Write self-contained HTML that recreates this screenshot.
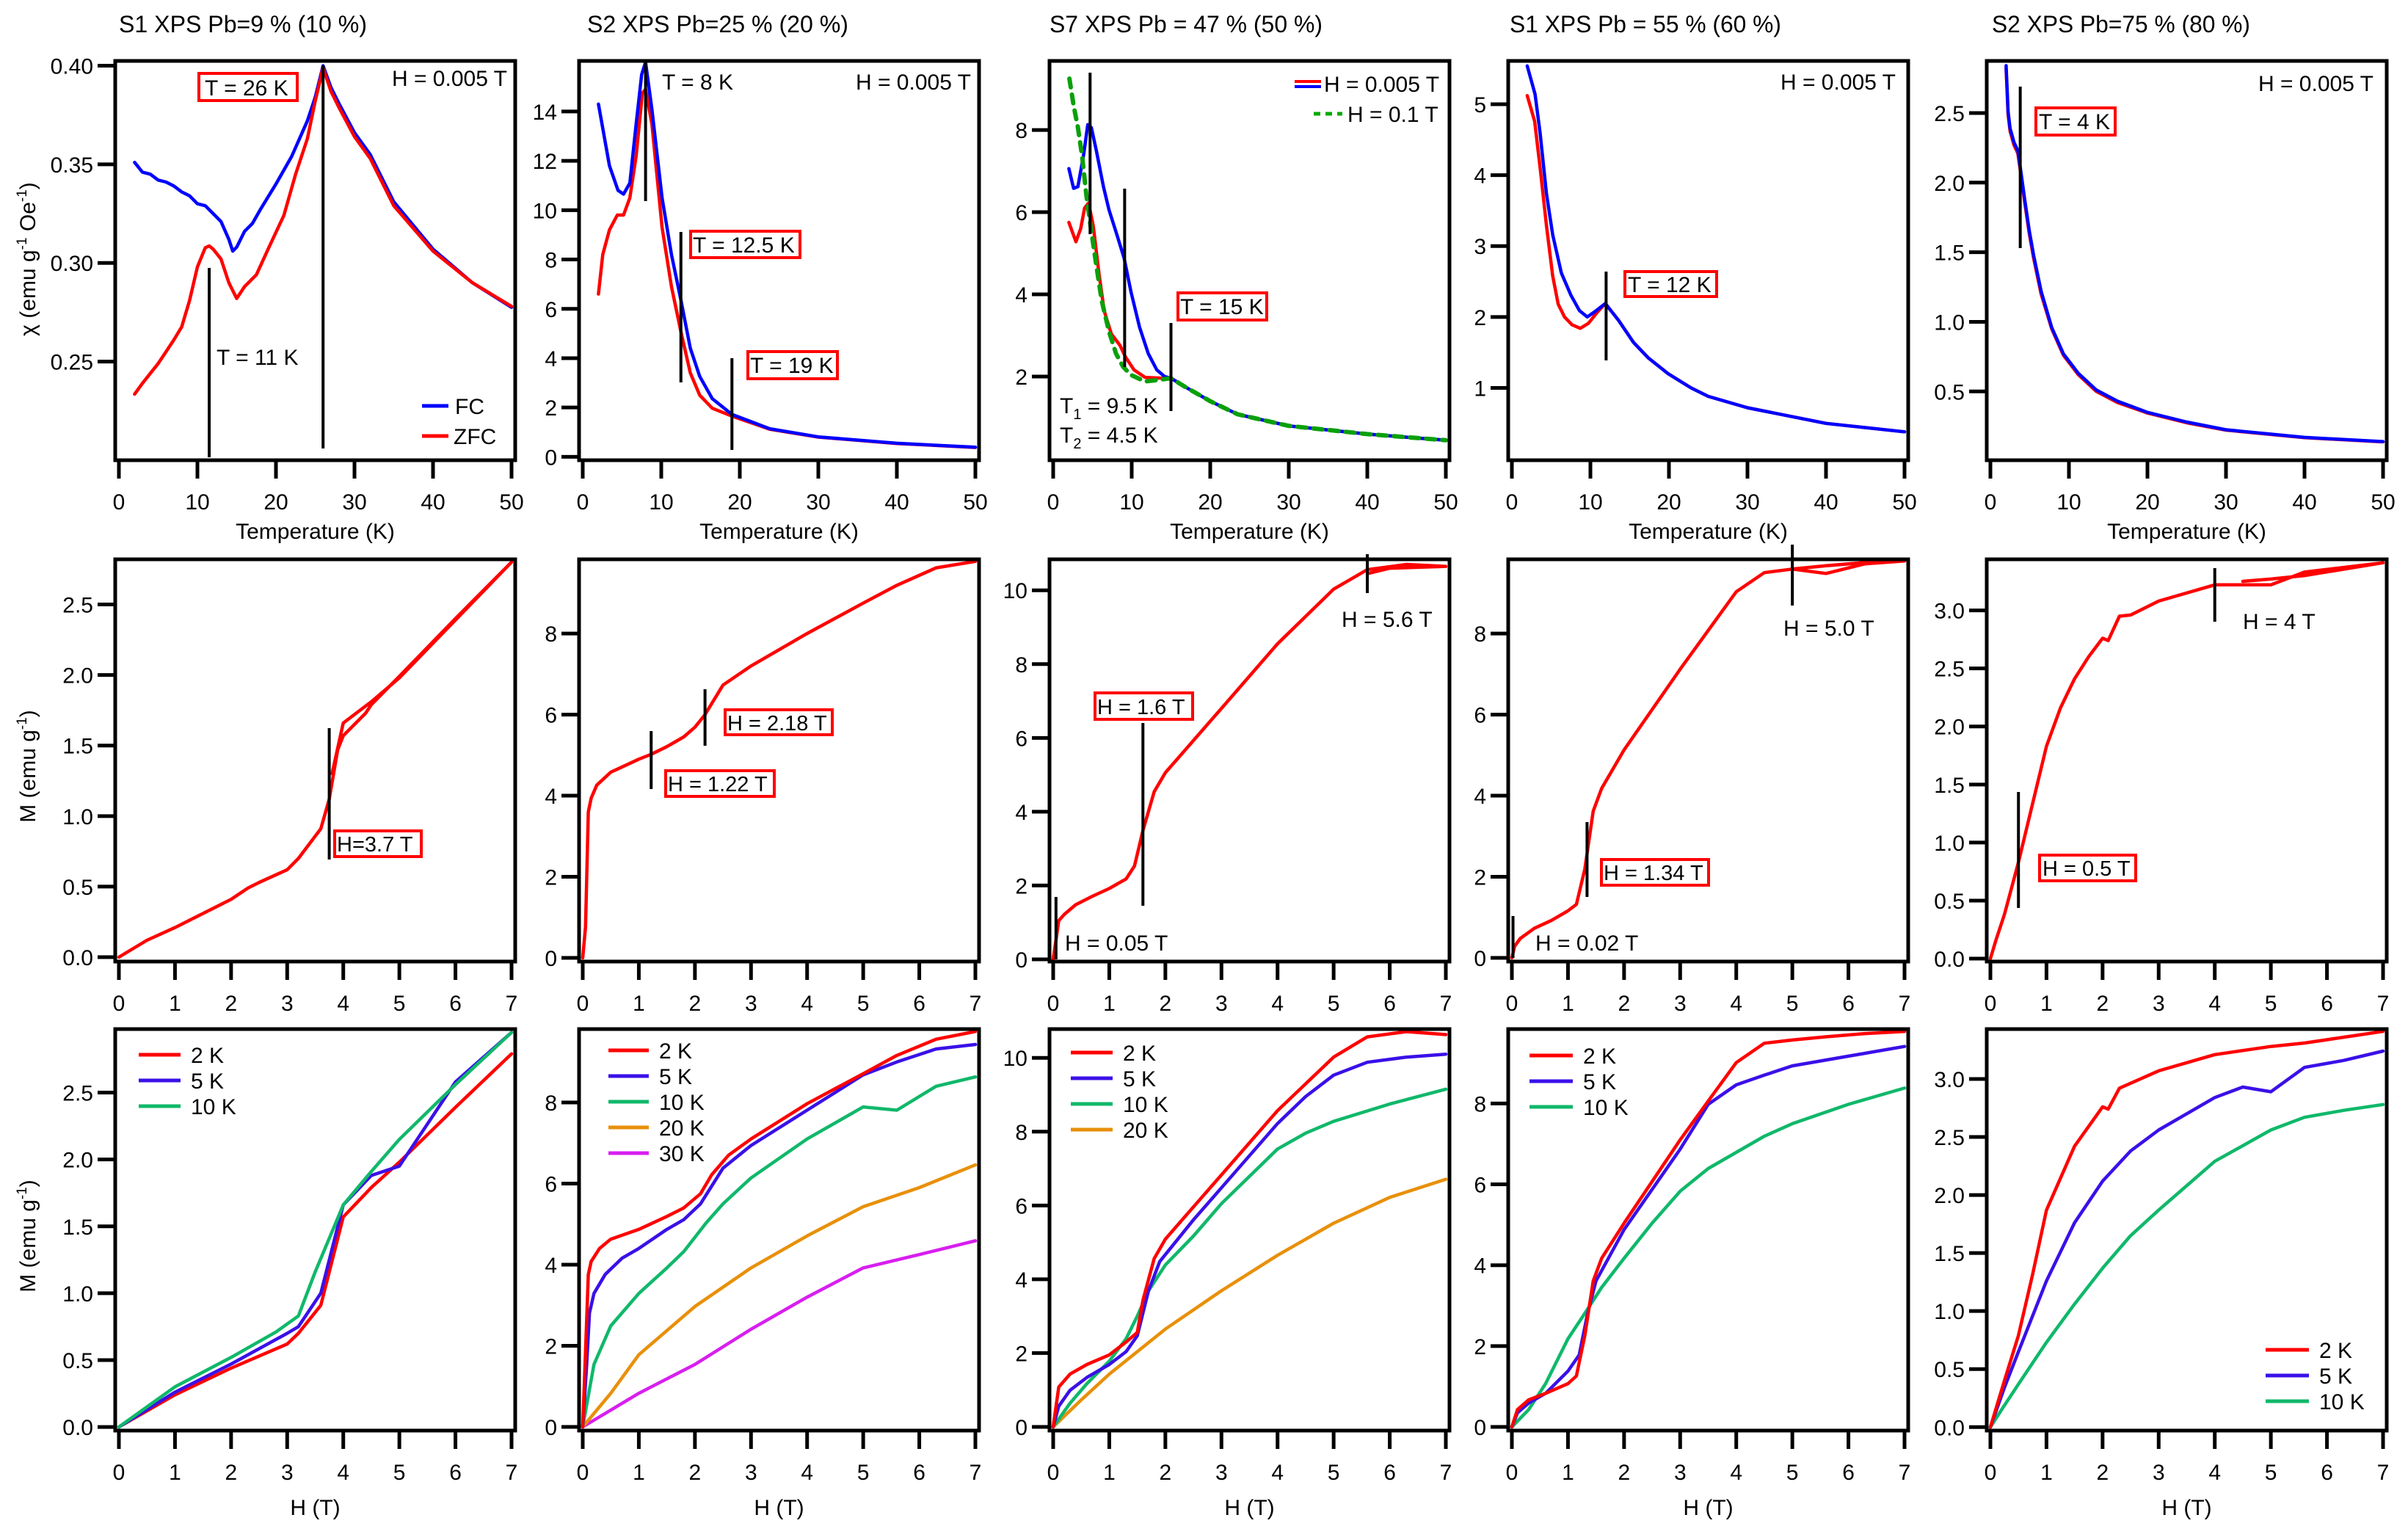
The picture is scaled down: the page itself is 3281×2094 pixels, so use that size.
<!DOCTYPE html>
<html><head><meta charset="utf-8"><title>Magnetization panels</title>
<style>
html,body{margin:0;padding:0;background:#fff;}
svg{display:block;font-family:"Liberation Sans",sans-serif;}
</style></head>
<body>
<svg id="fig" xmlns="http://www.w3.org/2000/svg" width="3281" height="2094" viewBox="0 0 3281 2094">
<rect x="0" y="0" width="3281" height="2094" fill="#fff"/>
<g id="marks"></g>
<g id="annot" font-size="30" fill="#000">
 <!-- titles -->
 <text x="162" y="44" font-size="32" textLength="338" lengthAdjust="spacingAndGlyphs">S1 XPS Pb=9 % (10 %)</text>
 <text x="800" y="44" font-size="32" textLength="356" lengthAdjust="spacingAndGlyphs">S2 XPS Pb=25 % (20 %)</text>
 <text x="1430" y="44" font-size="32" textLength="372" lengthAdjust="spacingAndGlyphs">S7 XPS Pb = 47 % (50 %)</text>
 <text x="2057" y="44" font-size="32" textLength="370" lengthAdjust="spacingAndGlyphs">S1 XPS Pb = 55 % (60 %)</text>
 <text x="2714" y="44" font-size="32" textLength="352" lengthAdjust="spacingAndGlyphs">S2 XPS Pb=75 % (80 %)</text>
 <!-- y titles -->
 <text transform="translate(48,353) rotate(-90)" text-anchor="middle" font-size="30">χ (emu g<tspan font-size="19" dy="-12">-1</tspan><tspan dy="12"> Oe</tspan><tspan font-size="19" dy="-12">-1</tspan><tspan dy="12">)</tspan></text>
 <text transform="translate(48,1044) rotate(-90)" text-anchor="middle" font-size="30">M (emu g<tspan font-size="19" dy="-12">-1</tspan><tspan dy="12">)</tspan></text>
 <text transform="translate(48,1684) rotate(-90)" text-anchor="middle" font-size="30">M (emu g<tspan font-size="19" dy="-12">-1</tspan><tspan dy="12">)</tspan></text>

 <!-- row1 col1 annotations -->
 <rect x="271" y="100" width="134" height="37" fill="none" stroke="#f00" stroke-width="4"/>
 <text x="279" y="130">T = 26 K</text>
 <text x="295" y="497">T = 11 K</text>
 <text x="691" y="117" text-anchor="end">H = 0.005 T</text>
 <line x1="575" y1="553" x2="611" y2="553" stroke="#00f" stroke-width="5"/>
 <text x="620" y="564">FC</text>
 <line x1="575" y1="594" x2="611" y2="594" stroke="#f00" stroke-width="5"/>
 <text x="618" y="605">ZFC</text>
 <!-- row1 col2 -->
 <text x="902" y="122">T = 8 K</text>
 <rect x="941" y="315" width="149" height="36" fill="none" stroke="#f00" stroke-width="4"/>
 <text x="944" y="344">T = 12.5 K</text>
 <rect x="1019" y="479" width="122" height="37" fill="none" stroke="#f00" stroke-width="4"/>
 <text x="1022" y="508">T = 19 K</text>
 <text x="1323" y="122" text-anchor="end">H = 0.005 T</text>
 <!-- row1 col3 -->
 <line x1="1764" y1="111" x2="1800" y2="111" stroke="#f00" stroke-width="4"/>
 <line x1="1764" y1="118" x2="1800" y2="118" stroke="#00f" stroke-width="4"/>
 <text x="1804" y="125">H = 0.005 T</text>
 <line x1="1790" y1="155" x2="1829" y2="155" stroke="#0a0" stroke-width="5" stroke-dasharray="9,7"/>
 <text x="1836" y="166">H = 0.1 T</text>
 <rect x="1605" y="399" width="121" height="37" fill="none" stroke="#f00" stroke-width="4"/>
 <text x="1608" y="428">T = 15 K</text>
 <text x="1444" y="563">T<tspan font-size="20" dy="8">1</tspan><tspan dy="-8"> = 9.5 K</tspan></text>
 <text x="1444" y="603">T<tspan font-size="20" dy="8">2</tspan><tspan dy="-8"> = 4.5 K</tspan></text>
 <!-- row1 col4 -->
 <rect x="2214" y="370" width="125" height="34" fill="none" stroke="#f00" stroke-width="4"/>
 <text x="2218" y="398">T = 12 K</text>
 <text x="2583" y="122" text-anchor="end">H = 0.005 T</text>
 <!-- row1 col5 -->
 <rect x="2774" y="147" width="108" height="37" fill="none" stroke="#f00" stroke-width="4"/>
 <text x="2778" y="176">T = 4 K</text>
 <text x="3234" y="124" text-anchor="end">H = 0.005 T</text>
 <!-- row2 -->
 <rect x="456" y="1132" width="118" height="35" fill="none" stroke="#f00" stroke-width="4"/>
 <text x="459" y="1160" font-size="29">H=3.7 T</text>
 <rect x="907" y="1050" width="148" height="35" fill="none" stroke="#f00" stroke-width="4"/>
 <text x="910" y="1078" font-size="29">H = 1.22 T</text>
 <rect x="988" y="967" width="146" height="34" fill="none" stroke="#f00" stroke-width="4"/>
 <text x="991" y="995" font-size="29">H = 2.18 T</text>
 <text x="1451" y="1295">H = 0.05 T</text>
 <rect x="1492" y="944" width="133" height="36" fill="none" stroke="#f00" stroke-width="4"/>
 <text x="1495" y="973" font-size="29">H = 1.6 T</text>
 <text x="1828" y="854">H = 5.6 T</text>
 <text x="2092" y="1295">H = 0.02 T</text>
 <rect x="2182" y="1171" width="146" height="35" fill="none" stroke="#f00" stroke-width="4"/>
 <text x="2185" y="1199" font-size="29">H = 1.34 T</text>
 <text x="2430" y="866">H = 5.0 T</text>
 <rect x="2779" y="1165" width="131" height="35" fill="none" stroke="#f00" stroke-width="4"/>
 <text x="2783" y="1193" font-size="29">H = 0.5 T</text>
 <text x="3056" y="857">H = 4 T</text>
</g>
</svg>
<script>
// ---------- data ----------
const r1c1_fc_T=[2,3,4,5,6,7,8,9,10,11,12,13,14,14.5,15,16,17,18,20,22,24,25,26,27,28,30,32,35,40,45,50];
const r1c1_fc_v=[0.351,0.346,0.345,0.342,0.341,0.339,0.336,0.334,0.330,0.329,0.325,0.321,0.312,0.306,0.308,0.316,0.320,0.327,0.340,0.354,0.372,0.384,0.400,0.389,0.381,0.366,0.355,0.331,0.307,0.290,0.2775];
const r1c1_zfc_T=[2,3,4,5,6,7,8,9,10,11,11.5,12,13,14,15,16,17.5,19,21,22.5,24,25,26,27,28,30,32,35,40,45,50];
const r1c1_zfc_v=[0.2335,0.239,0.244,0.249,0.255,0.261,0.2676,0.281,0.298,0.3077,0.3086,0.307,0.302,0.290,0.282,0.288,0.294,0.307,0.324,0.345,0.363,0.382,0.399,0.387,0.379,0.364,0.353,0.329,0.306,0.290,0.278];

const r1c2_fc_T=[2,3.4,4.5,5.2,6,6.8,7.5,8,8.8,10.1,11.3,12.5,13.7,14.9,16.5,19,23.8,30,40,50];
const r1c2_fc_v=[14.3,11.8,10.8,10.65,11.1,13.5,15.5,16.0,14.1,10.5,8.2,6.35,4.4,3.26,2.36,1.72,1.14,0.81,0.55,0.39];
const r1c2_zfc_T=[2,2.55,3.4,4.4,5.2,6,6.8,7.6,8,8.8,10.1,11.3,12.5,13.7,14.9,16.5,19,23.8,30,40,50];
const r1c2_zfc_v=[6.6,8.2,9.2,9.8,9.8,10.5,12.2,14.75,14.9,13.5,9.3,6.9,5.07,3.4,2.5,1.97,1.65,1.12,0.80,0.54,0.38];

const r1c3_blue_T=[2,2.6,3.15,3.9,4.4,4.86,5.5,6.4,7.1,8.15,9.05,9.9,11,12.1,13.2,14.2,15,16.7,20,23.5,30,40,50];
const r1c3_blue_v=[7.06,6.58,6.62,7.42,8.13,8.06,7.5,6.62,6.06,5.43,4.87,4.07,3.2,2.56,2.16,2.0,1.96,1.76,1.40,1.08,0.80,0.60,0.45];
const r1c3_red_T=[2,2.9,3.5,4.0,4.5,5.1,5.8,6.5,7.4,8.5,9.2,10.3,11.7,13.9,15,16.7,20,23.5,30,40,50];
const r1c3_red_v=[5.75,5.28,5.6,6.1,6.22,5.67,4.55,3.6,3.04,2.76,2.48,2.16,1.98,1.96,1.96,1.76,1.40,1.08,0.80,0.60,0.45];
const r1c3_green_T=[2.07,2.6,3.15,3.7,4.2,4.76,5.5,6.2,7.1,8,8.9,9.9,11.7,13.5,15,16.7,20,23.5,30,40,50];
const r1c3_green_v=[9.25,8.6,8.06,7.34,6.46,5.67,4.7,3.83,3.1,2.56,2.24,2.04,1.88,1.92,1.96,1.76,1.40,1.08,0.80,0.60,0.45];

const r1c4_fc_T=[1.95,2.95,3.6,4.4,5.2,6.3,7.5,8.6,9.6,10.5,11.9,13.6,15.5,17.4,19.9,22.8,25,30,40,50];
const r1c4_fc_v=[5.54,5.14,4.59,3.74,3.16,2.62,2.31,2.09,2.0,2.07,2.19,1.95,1.64,1.42,1.2,1.0,0.88,0.72,0.5,0.38];
const r1c4_zfc_T=[1.95,2.9,3.6,4.4,5.2,5.9,6.7,7.65,8.7,9.75,10.9,11.9,13.6,15.5,17.4,19.9,22.8,25,30,40,50];
const r1c4_zfc_v=[5.12,4.76,4.1,3.29,2.58,2.18,2.0,1.89,1.84,1.91,2.07,2.19,1.95,1.64,1.42,1.2,1.0,0.88,0.72,0.5,0.38];

const r1c5_T=[2,2.25,2.5,3.0,3.5,3.8,4.36,4.93,5.5,6.46,7.8,9.3,11.2,13.5,16.2,20,25,30,40,50];
const r1c5_fc_v=[2.84,2.51,2.39,2.29,2.23,2.11,1.88,1.66,1.48,1.22,0.96,0.77,0.63,0.51,0.43,0.35,0.28,0.225,0.17,0.14];
const r1c5_zfc_v=[2.82,2.49,2.37,2.27,2.21,2.09,1.86,1.64,1.46,1.20,0.95,0.76,0.62,0.50,0.42,0.345,0.275,0.222,0.168,0.138];

const r2c1_H=[0,0.5,1,1.5,2,2.3,2.5,3,3.2,3.6,3.75,3.9,4.0,4.4,4.5,5,6,7,6,5,4.5,4.0,3.8];
const r2c1_M=[0,0.12,0.21,0.31,0.41,0.49,0.53,0.62,0.70,0.91,1.12,1.47,1.57,1.73,1.79,1.99,2.40,2.80,2.39,1.98,1.81,1.66,1.30];

const r2c2_H=[0,0.05,0.1,0.15,0.25,0.5,0.75,1.0,1.22,1.5,1.8,2.0,2.18,2.5,3,4,5,5.6,6.3,7];
const r2c2_M=[0,0.76,3.6,3.94,4.26,4.58,4.74,4.9,5.02,5.21,5.45,5.69,6.0,6.73,7.2,8.0,8.75,9.19,9.62,9.78];

const r2c3_H=[0,0.05,0.1,0.2,0.4,0.7,1.0,1.3,1.45,1.6,1.8,2.0,2.5,3,4,5,5.6,6.3,7,6,5.6];
const r2c3_M=[0,0.52,1.05,1.22,1.48,1.71,1.92,2.18,2.53,3.49,4.54,5.06,5.93,6.8,8.55,10.03,10.56,10.7,10.65,10.6,10.45];

const r2c4_H=[0,0.05,0.15,0.4,0.7,1.0,1.15,1.3,1.45,1.6,2,3,4,4.5,5,5.6,6.3,7,6.3,5.6,5];
const r2c4_M=[0,0.29,0.48,0.73,0.92,1.16,1.32,2.19,3.62,4.18,5.13,7.12,9.03,9.5,9.59,9.67,9.75,9.79,9.72,9.48,9.59];

const r2c5_H=[0,0.1,0.25,0.5,0.75,1.0,1.25,1.5,1.75,2.0,2.1,2.3,2.5,3,4,5,5.6,7,5.6,5,4.5];
const r2c5_M=[0,0.16,0.38,0.83,1.33,1.83,2.16,2.41,2.6,2.76,2.74,2.95,2.96,3.08,3.22,3.22,3.33,3.41,3.30,3.27,3.25];

const r3c1_H=[0,1,2,3,3.2,3.6,3.8,4.0,4.5,5,6,7];
const r3c1_M2=[0,0.24,0.44,0.62,0.70,0.91,1.24,1.57,1.79,1.98,2.39,2.79];
const r3c1_M5=[0,0.26,0.47,0.70,0.75,1.0,1.33,1.66,1.88,1.95,2.58,2.95];
const r3c1_H10=[0,1,2,2.8,3.2,3.5,4.0,4.5,5,6,7];
const r3c1_M10=[0,0.30,0.52,0.71,0.83,1.16,1.66,1.91,2.15,2.56,2.95];

const r3c2_H2=[0,0.05,0.1,0.15,0.3,0.5,1.0,1.5,1.8,2.1,2.3,2.6,3,4,5,5.6,6.3,7];
const r3c2_M2=[0,1.86,3.76,4.08,4.4,4.63,4.87,5.19,5.4,5.75,6.22,6.7,7.1,7.97,8.71,9.16,9.56,9.75];
const r3c2_H5=[0,0.07,0.12,0.2,0.4,0.7,1,1.5,1.8,2.1,2.5,3,4,5,5.6,6.3,7];
const r3c2_M5=[0,1.54,2.81,3.29,3.76,4.16,4.4,4.87,5.11,5.5,6.38,6.94,7.81,8.68,9.0,9.32,9.43];
const r3c2_H10=[0,0.2,0.5,1,1.5,1.8,2.2,2.5,3,4,5,5.6,6.3,7];
const r3c2_M10=[0,1.54,2.49,3.29,3.92,4.32,5.03,5.5,6.14,7.1,7.89,7.81,8.4,8.63];
const r3c2_H20=[0,0.5,1,2,3,4,5,6,7];
const r3c2_M20=[0,0.83,1.78,2.97,3.92,4.71,5.43,5.9,6.46];
const r3c2_H30=[0,1,2,3,4,5,6,7];
const r3c2_M30=[0,0.83,1.54,2.41,3.2,3.92,4.25,4.59];

const r3c3_H2=[0,0.1,0.3,0.6,1.0,1.3,1.5,1.6,1.8,2.0,2.5,3,4,5,5.6,6.3,7];
const r3c3_M2=[0,1.08,1.43,1.69,1.95,2.3,2.56,3.43,4.56,5.09,5.96,6.83,8.57,10.02,10.57,10.71,10.63];
const r3c3_H5=[0,0.1,0.3,0.6,1,1.3,1.5,1.7,1.9,2.5,3,4,4.5,5,5.6,6.3,7];
const r3c3_M5=[0,0.56,0.99,1.34,1.69,2.04,2.47,3.69,4.48,5.61,6.48,8.22,8.95,9.53,9.88,10.02,10.1];
const r3c3_H10=[0,0.3,0.6,1,1.3,1.5,1.7,2,2.5,3,4,4.5,5,6,7];
const r3c3_M10=[0,0.64,1.17,1.78,2.39,3.0,3.69,4.39,5.17,6.05,7.53,7.96,8.28,8.75,9.15];
const r3c3_H20=[0,0.5,1,2,3,4,5,6,7];
const r3c3_M20=[0,0.73,1.43,2.65,3.69,4.65,5.52,6.22,6.71];

const r3c4_H2=[0,0.1,0.3,0.6,1,1.15,1.3,1.45,1.6,2,3,3.5,4,4.5,5,5.6,6.3,7];
const r3c4_M2=[0,0.43,0.67,0.83,1.07,1.26,2.26,3.61,4.17,5.04,7.1,8.06,9.01,9.49,9.57,9.65,9.73,9.78];
const r3c4_H5=[0,0.1,0.3,0.6,1,1.2,1.35,1.5,2,3,3.5,4,4.5,5,6,7];
const r3c4_M5=[0,0.35,0.59,0.83,1.38,1.78,2.81,3.61,4.88,6.87,7.98,8.46,8.7,8.93,9.17,9.41];
const r3c4_H10=[0,0.3,0.6,1,1.3,1.6,2,2.5,3,3.5,4,4.5,5,6,7];
const r3c4_M10=[0,0.43,1.07,2.18,2.81,3.45,4.17,5.04,5.83,6.39,6.79,7.19,7.5,7.98,8.38];

const r3c5_H2=[0,0.25,0.5,0.75,1.0,1.5,2,2.1,2.3,3,4,5,5.6,7];
const r3c5_M2=[0,0.4,0.79,1.31,1.87,2.42,2.76,2.74,2.92,3.07,3.21,3.28,3.31,3.41];
const r3c5_H5=[0,0.25,0.5,1,1.5,2,2.5,3,4,4.5,5,5.6,6.3,7];
const r3c5_M5=[0,0.34,0.65,1.26,1.76,2.12,2.38,2.56,2.84,2.93,2.89,3.1,3.16,3.24];
const r3c5_H10=[0,0.2,0.5,1,1.5,2,2.5,3,4,5,5.6,6.3,7];
const r3c5_M10=[0,0.15,0.37,0.73,1.06,1.37,1.65,1.87,2.29,2.56,2.67,2.73,2.78];

const tTicks=[0,10,20,30,40,50];
const hTicks=[0,1,2,3,4,5,6,7];

// ---------- layout ----------
const NS='http://www.w3.org/2000/svg';
const colLeft=[157,789,1430,2055,2707];
const frameW=545;
const rowTop=[83,762,1402], rowBot=[627,1310,1949];
const marks=document.getElementById('marks');
function el(tag,attrs,parent){const e=document.createElementNS(NS,tag);for(const k in attrs)e.setAttribute(k,attrs[k]);(parent||marks).appendChild(e);return e;}

function panel(cfg){
  const L=colLeft[cfg.col],R=L+frameW,T=rowTop[cfg.row],B=rowBot[cfg.row];
  const g=el('g',{});
  
  
  const xs=v=>L+5+v/cfg.xmax*535;
  const ys=v=>B-(v-cfg.ymin)/(cfg.ymax-cfg.ymin)*(B-T);
  const p={g,xs,ys,L,R,T,B};
  // ticks
  cfg.yticks.forEach(v=>{
    const y=ys(v);
    const t=el('line',{x1:L-24,x2:L,y1:y,y2:y,stroke:'#000','stroke-width':5},g);
    
    
    const lb=el('text',{x:L-30,y:y+11,'text-anchor':'end','font-size':30},g);
    
    
    lb.textContent=cfg.yfmt?v.toFixed(cfg.yfmt):String(v);
  });
  cfg.xticks.forEach(v=>{
    const x=xs(v);
    const t=el('line',{x1:x,x2:x,y1:B,y2:B+25,stroke:'#000','stroke-width':5},g);
    
    
    const lb=el('text',{x:x,y:B+67,'text-anchor':'middle','font-size':30},g);
    
    
    lb.textContent=String(v);
  });
  if(cfg.xtitle){
    const xt=el('text',{x:(L+R)/2,y:cfg.row===0?734:2064,'text-anchor':'middle','font-size':30},g);
    
    
    xt.textContent=cfg.xtitle;
  }
  return p;
}
function frame(p){
  const f=el('rect',{x:p.L,y:p.T,width:frameW,height:p.B-p.T,fill:'none',stroke:'#000','stroke-width':5},p.g);
  
  
}
function series(p,xa,ya,color,name,dash,w){
  let d='';
  for(let i=0;i<xa.length;i++){d+=(i?'L':'M')+p.xs(xa[i]).toFixed(1)+' '+p.ys(ya[i]).toFixed(1);}
  const a={d:d,fill:'none',stroke:color,'stroke-width':w||4.5,'stroke-linejoin':'round','stroke-linecap':'round'};
  if(dash)a['stroke-dasharray']=dash;
  const e=el('path',a,p.g);
  
  
}
function vmark(p,x,y1,y2){
  const e=el('line',{x1:x,x2:x,y1:y1,y2:y2,stroke:'#000','stroke-width':4},p.g);
  
  
}
function legend(p,items){
  items.forEach(it=>{
    const l=el('line',{x1:it[0],x2:it[1],y1:it[2],y2:it[2],stroke:it[3],'stroke-width':5},p.g);
    
    
    const t=el('text',{x:it[1]+14,y:it[2]+11,'font-size':30},p.g);
    
    
    t.textContent=it[4];
  });
}
const RED='#ff0000',BLUE='#0000ff',BLUE2='#3a10e8',GREEN='#10b86a',ORANGE='#e8900a',PURPLE='#d81ef0';

// Row 1
let p=panel({col:0,row:0,ymin:0.2,ymax:0.4024,xmax:50,yticks:[0.25,0.30,0.35,0.40],yfmt:2,xticks:tTicks,xtitle:'Temperature (K)'});
series(p,r1c1_fc_T,r1c1_fc_v,BLUE,'fc-curve');
series(p,r1c1_zfc_T,r1c1_zfc_v,RED,'zfc-curve');
vmark(p,p.xs(26),89,611);vmark(p,p.xs(11.5),365,623);frame(p);

p=panel({col:1,row:0,ymin:-0.137,ymax:16.05,xmax:50,yticks:[0,2,4,6,8,10,12,14],xticks:tTicks,xtitle:'Temperature (K)'});
series(p,r1c2_zfc_T,r1c2_zfc_v,RED,'zfc-curve');
series(p,r1c2_fc_T,r1c2_fc_v,BLUE,'fc-curve');
vmark(p,p.xs(8),85,274);vmark(p,p.xs(12.5),316,521);vmark(p,p.xs(19),488,613);frame(p);

p=panel({col:2,row:0,ymin:-0.036,ymax:9.68,xmax:50,yticks:[2,4,6,8],xticks:tTicks,xtitle:'Temperature (K)'});
series(p,r1c3_red_T,r1c3_red_v,RED,'zfc-curve-0005T');
series(p,r1c3_blue_T,r1c3_blue_v,BLUE,'fc-curve-0005T');
series(p,r1c3_green_T,r1c3_green_v,'#0aa00a','curve-01T','12,10',6);
vmark(p,p.xs(4.7),99,319);vmark(p,p.xs(9.1),257,500);vmark(p,p.xs(15),440,560);frame(p);

p=panel({col:3,row:0,ymin:-0.02,ymax:5.61,xmax:50,yticks:[1,2,3,4,5],xticks:tTicks,xtitle:'Temperature (K)'});
series(p,r1c4_zfc_T,r1c4_zfc_v,RED,'zfc-curve');
series(p,r1c4_fc_T,r1c4_fc_v,BLUE,'fc-curve');
vmark(p,p.xs(12),370,491);frame(p);

p=panel({col:4,row:0,ymin:0.006,ymax:2.874,xmax:50,yticks:[0.5,1.0,1.5,2.0,2.5],yfmt:1,xticks:tTicks,xtitle:'Temperature (K)'});
series(p,r1c5_T,r1c5_zfc_v,RED,'zfc-curve');
series(p,r1c5_T,r1c5_fc_v,BLUE,'fc-curve');
vmark(p,p.xs(3.8),118,338);frame(p);

// Row 2
p=panel({col:0,row:1,ymin:-0.031,ymax:2.82,xmax:7,yticks:[0,0.5,1.0,1.5,2.0,2.5],yfmt:1,xticks:hTicks});
series(p,r2c1_H,r2c1_M,RED,'m-h-curve-2k');
vmark(p,p.xs(3.75),992,1171);frame(p);

p=panel({col:1,row:1,ymin:-0.09,ymax:9.83,xmax:7,yticks:[0,2,4,6,8],xticks:hTicks});
series(p,r2c2_H,r2c2_M,RED,'m-h-curve-2k');
vmark(p,p.xs(1.22),996,1075);vmark(p,p.xs(2.18),939,1016);frame(p);

p=panel({col:2,row:1,ymin:-0.06,ymax:10.84,xmax:7,yticks:[0,2,4,6,8,10],xticks:hTicks});
series(p,r2c3_H,r2c3_M,RED,'m-h-curve-2k');
vmark(p,p.xs(0.05),1222,1307);vmark(p,p.xs(1.6),985,1234);vmark(p,p.xs(5.6),755,808);frame(p);

p=panel({col:3,row:1,ymin:-0.09,ymax:9.83,xmax:7,yticks:[0,2,4,6,8],xticks:hTicks});
series(p,r2c4_H,r2c4_M,RED,'m-h-curve-2k');
vmark(p,p.xs(0.02),1248,1305);vmark(p,p.xs(1.34),1120,1222);vmark(p,p.xs(5.0),742,825);frame(p);

p=panel({col:4,row:1,ymin:-0.025,ymax:3.44,xmax:7,yticks:[0,0.5,1.0,1.5,2.0,2.5,3.0],yfmt:1,xticks:hTicks});
series(p,r2c5_H,r2c5_M,RED,'m-h-curve-2k');
vmark(p,p.xs(0.5),1079,1237);vmark(p,p.xs(4),774,847);frame(p);

// Row 3
p=panel({col:0,row:2,ymin:-0.027,ymax:2.975,xmax:7,yticks:[0,0.5,1.0,1.5,2.0,2.5],yfmt:1,xticks:hTicks,xtitle:'H (T)'});
series(p,r3c1_H,r3c1_M2,RED,'m-h-curve-2k');
series(p,r3c1_H,r3c1_M5,BLUE2,'m-h-curve-5k');
series(p,r3c1_H10,r3c1_M10,GREEN,'m-h-curve-10k');
legend(p,[[189,246,1437,RED,'2 K'],[189,246,1472,BLUE2,'5 K'],[189,246,1507,GREEN,'10 K']]);frame(p);

p=panel({col:1,row:2,ymin:-0.09,ymax:9.81,xmax:7,yticks:[0,2,4,6,8],xticks:hTicks,xtitle:'H (T)'});
series(p,r3c2_H30,r3c2_M30,PURPLE,'m-h-curve-30k');
series(p,r3c2_H20,r3c2_M20,ORANGE,'m-h-curve-20k');
series(p,r3c2_H10,r3c2_M10,GREEN,'m-h-curve-10k');
series(p,r3c2_H5,r3c2_M5,BLUE2,'m-h-curve-5k');
series(p,r3c2_H2,r3c2_M2,RED,'m-h-curve-2k');
legend(p,[[829,884,1431,RED,'2 K'],[829,884,1466,BLUE2,'5 K'],[829,884,1501,GREEN,'10 K'],[829,884,1536,ORANGE,'20 K'],[829,884,1571,PURPLE,'30 K']]);frame(p);

p=panel({col:2,row:2,ymin:-0.1,ymax:10.78,xmax:7,yticks:[0,2,4,6,8,10],xticks:hTicks,xtitle:'H (T)'});
series(p,r3c3_H20,r3c3_M20,ORANGE,'m-h-curve-20k');
series(p,r3c3_H10,r3c3_M10,GREEN,'m-h-curve-10k');
series(p,r3c3_H5,r3c3_M5,BLUE2,'m-h-curve-5k');
series(p,r3c3_H2,r3c3_M2,RED,'m-h-curve-2k');
legend(p,[[1459,1516,1434,RED,'2 K'],[1459,1516,1469,BLUE2,'5 K'],[1459,1516,1504,GREEN,'10 K'],[1459,1516,1539,ORANGE,'20 K']]);frame(p);

p=panel({col:3,row:2,ymin:-0.09,ymax:9.84,xmax:7,yticks:[0,2,4,6,8],xticks:hTicks,xtitle:'H (T)'});
series(p,r3c4_H10,r3c4_M10,GREEN,'m-h-curve-10k');
series(p,r3c4_H5,r3c4_M5,BLUE2,'m-h-curve-5k');
series(p,r3c4_H2,r3c4_M2,RED,'m-h-curve-2k');
legend(p,[[2084,2143,1438,RED,'2 K'],[2084,2143,1473,BLUE2,'5 K'],[2084,2143,1508,GREEN,'10 K']]);frame(p);

p=panel({col:4,row:2,ymin:-0.03,ymax:3.43,xmax:7,yticks:[0,0.5,1.0,1.5,2.0,2.5,3.0],yfmt:1,xticks:hTicks,xtitle:'H (T)'});
series(p,r3c5_H10,r3c5_M10,GREEN,'m-h-curve-10k');
series(p,r3c5_H5,r3c5_M5,BLUE2,'m-h-curve-5k');
series(p,r3c5_H2,r3c5_M2,RED,'m-h-curve-2k');
legend(p,[[3087,3146,1839,RED,'2 K'],[3087,3146,1874,BLUE2,'5 K'],[3087,3146,1909,GREEN,'10 K']]);frame(p);
</script>
</body></html>
